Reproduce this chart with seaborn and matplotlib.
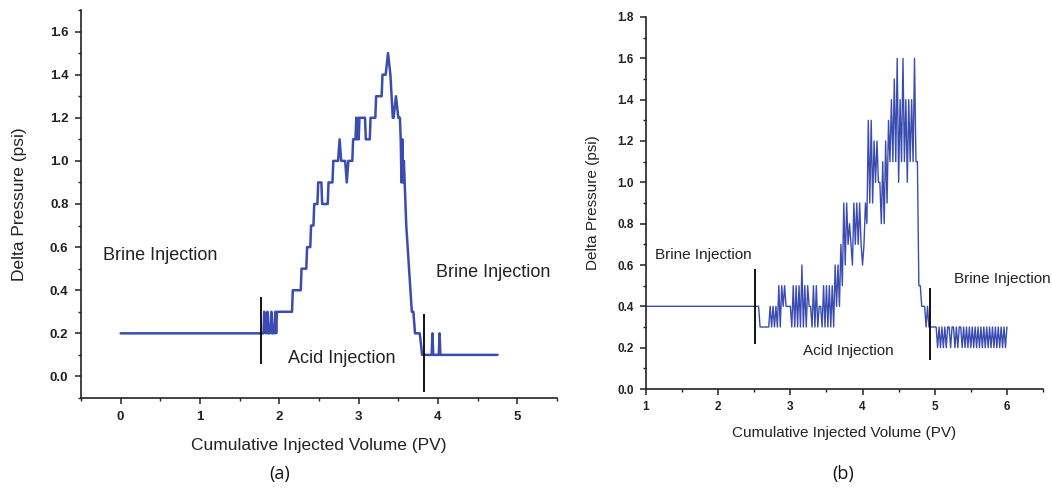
import matplotlib
matplotlib.use("Agg")
import matplotlib.pyplot as plt
from matplotlib.ticker import MultipleLocator, FormatStrFormatter
import pandas as pd
import seaborn as sns

# ---------------- data: panel (a) ----------------
pv_a = [0.00, 1.80, 1.81, 1.83, 1.85, 1.86, 1.88, 1.90, 1.91, 1.93, 1.95, 1.96, 1.97,
        2.16, 2.17, 2.27, 2.28, 2.34, 2.35, 2.39, 2.40, 2.43, 2.44, 2.48, 2.49, 2.53,
        2.54, 2.61, 2.62, 2.67, 2.68, 2.74, 2.76, 2.78, 2.83, 2.85, 2.87, 2.92, 2.93,
        2.96, 2.97, 2.98, 2.99, 3.00, 3.01, 3.08, 3.09, 3.14, 3.15, 3.21, 3.22, 3.29,
        3.30, 3.34, 3.37, 3.40, 3.43, 3.44, 3.47, 3.50, 3.52, 3.53, 3.54, 3.55, 3.56,
        3.57, 3.60, 3.67, 3.69, 3.71, 3.77, 3.80, 3.92, 3.93, 3.94, 4.01, 4.02, 4.03,
        4.75]
dp_a = [0.2, 0.2, 0.3, 0.2, 0.3, 0.2, 0.2, 0.3, 0.2, 0.2, 0.3, 0.2, 0.3,
        0.3, 0.4, 0.4, 0.5, 0.5, 0.6, 0.6, 0.7, 0.7, 0.8, 0.8, 0.9, 0.9,
        0.8, 0.8, 0.9, 0.9, 1.0, 1.0, 1.1, 1.0, 1.0, 0.9, 1.0, 1.0, 1.1,
        1.1, 1.2, 1.1, 1.2, 1.1, 1.2, 1.2, 1.1, 1.1, 1.2, 1.2, 1.3, 1.3,
        1.4, 1.4, 1.5, 1.4, 1.2, 1.2, 1.3, 1.2, 1.2, 1.1, 0.9, 1.1, 0.9,
        1.0, 0.7, 0.3, 0.3, 0.2, 0.2, 0.1, 0.1, 0.2, 0.1, 0.1, 0.2, 0.1,
        0.1]

div_a_x = [1.77, 3.82]
div_a_lo = [0.06, -0.07]
div_a_hi = [0.37, 0.29]
labels_a = ["Brine Injection", "Acid Injection", "Brine Injection"]
label_a_x = [-0.22, 2.11, 3.98]
label_a_y = [0.56, 0.085, 0.48]

# ---------------- data: panel (b) ----------------
pv_b_head = [1.00, 2.50]
dp_b_head = [0.4, 0.4]
SAMPLE_START_B = 2.52
SAMPLE_STEP_B = 0.02
dp_b_samples = [
    0.4, 0.4, 0.4, 0.3, 0.3, 0.3, 0.3, 0.3, 0.3, 0.3,   # 2.52
    0.4, 0.3, 0.4, 0.3, 0.4, 0.3, 0.5, 0.3, 0.5, 0.4,   # 2.72
    0.5, 0.4, 0.4, 0.4, 0.4, 0.3, 0.5, 0.3, 0.5, 0.3,   # 2.92
    0.5, 0.3, 0.6, 0.3, 0.5, 0.3, 0.5, 0.4, 0.4, 0.3,   # 3.12
    0.5, 0.3, 0.5, 0.3, 0.4, 0.4, 0.3, 0.5, 0.3, 0.5,   # 3.32
    0.3, 0.5, 0.3, 0.5, 0.3, 0.6, 0.4, 0.6, 0.4, 0.7,   # 3.52
    0.5, 0.9, 0.6, 0.9, 0.7, 0.8, 0.7, 0.6, 0.9, 0.7,   # 3.72
    0.9, 0.7, 0.9, 0.7, 0.6, 0.7, 0.9, 0.8, 1.3, 0.9,   # 3.92
    1.3, 0.9, 1.2, 1.0, 1.2, 1.0, 1.0, 0.8, 1.1, 0.8,   # 4.12
    1.2, 0.9, 1.3, 1.1, 1.4, 1.1, 1.5, 1.1, 1.6, 1.0,   # 4.32
    1.4, 1.1, 1.6, 1.1, 1.4, 1.0, 1.4, 1.1, 1.4, 1.1,   # 4.52
    1.6, 1.1, 1.1, 0.5, 0.5, 0.4, 0.4, 0.4, 0.3, 0.4,   # 4.72
    0.3, 0.3, 0.3, 0.3, 0.3, 0.3, 0.2, 0.3, 0.2, 0.3,   # 4.92
    0.2, 0.3, 0.2, 0.3, 0.3, 0.2, 0.3, 0.3, 0.2, 0.3,   # 5.12
    0.2, 0.3, 0.3, 0.2, 0.3, 0.2, 0.3, 0.2, 0.3, 0.2,   # 5.32
    0.3, 0.2, 0.3, 0.2, 0.3, 0.2, 0.3, 0.2, 0.3, 0.2,   # 5.52
    0.3, 0.2, 0.3, 0.2, 0.3, 0.2, 0.3, 0.2, 0.3, 0.2,   # 5.72
    0.3, 0.2, 0.3, 0.2, 0.3,                            # 5.92
]
pv_b = pv_b_head + [round(SAMPLE_START_B + SAMPLE_STEP_B * i, 2)
                    for i in range(len(dp_b_samples))]
dp_b = dp_b_head + dp_b_samples

div_b_x = [2.51, 4.93]
div_b_lo = [0.22, 0.14]
div_b_hi = [0.58, 0.49]
labels_b = ["Brine Injection", "Acid Injection", "Brine Injection"]
label_b_x = [1.12, 3.17, 5.27]
label_b_y = [0.65, 0.185, 0.532]

captions = ["(a)", "(b)"]
x_label = "Cumulative Injected Volume (PV)"
y_label = "Delta Pressure (psi)"

# ---------------- style ----------------
sns.set_theme(style="ticks")
plt.rcParams["font.family"] = ["Liberation Sans", "DejaVu Sans"]
LINE = "#3b4cb0"
INK = "#222222"

fig = plt.figure(figsize=(10.52, 4.91), dpi=100)
axA = fig.add_axes([81 / 1052, 1 - 398 / 491, 476 / 1052, 388 / 491])
axB = fig.add_axes([646 / 1052, 1 - 389 / 491, 397 / 1052, 372 / 491])

dfa = pd.DataFrame({"pv": pv_a, "dp": dp_a})
dfb = pd.DataFrame({"pv": pv_b, "dp": dp_b})
sns.lineplot(data=dfa, x="pv", y="dp", ax=axA, color=LINE, lw=1.8,
             estimator=None, sort=False)
sns.lineplot(data=dfb, x="pv", y="dp", ax=axB, color=LINE, lw=1.0,
             estimator=None, sort=False)

axA.vlines(div_a_x, div_a_lo, div_a_hi, color="black", lw=1.3)
axB.vlines(div_b_x, div_b_lo, div_b_hi, color="black", lw=1.3)

for t, x, y in zip(labels_a, label_a_x, label_a_y):
    axA.text(x, y, t, fontsize=13, ha="left", va="center", color=INK,
             clip_on=False)
for t, x, y in zip(labels_b, label_b_x, label_b_y):
    axB.text(x, y, t, fontsize=11, ha="left", va="center", color=INK,
             clip_on=False)


def style(ax, xlim, ylim, fs_tick, fs_lab, ylabel_x, xlabel_y):
    ax.set_xlim(*xlim)
    ax.set_ylim(*ylim)
    ax.xaxis.set_major_locator(MultipleLocator(1))
    ax.xaxis.set_minor_locator(MultipleLocator(0.5))
    ax.yaxis.set_major_locator(MultipleLocator(0.2))
    ax.yaxis.set_minor_locator(MultipleLocator(0.1))
    ax.yaxis.set_major_formatter(FormatStrFormatter("%.1f"))
    ax.xaxis.set_major_formatter(FormatStrFormatter("%d"))
    for s in ["top", "right"]:
        ax.spines[s].set_visible(False)
    for s in ["left", "bottom"]:
        ax.spines[s].set_linewidth(1.2)
        ax.spines[s].set_color(INK)
    ax.tick_params(which="major", direction="out", length=4, width=1.1,
                   labelsize=fs_tick, color=INK, pad=5)
    ax.tick_params(which="minor", direction="out", length=2.5, width=1.0,
                   color=INK)
    for lab in ax.get_xticklabels() + ax.get_yticklabels():
        lab.set_fontweight("bold")
        lab.set_color(INK)
    ax.set_xlabel(x_label, fontsize=fs_lab, color=INK)
    ax.set_ylabel(y_label, fontsize=fs_lab, color=INK)
    ax.yaxis.set_label_coords(ylabel_x, 0.5)
    ax.xaxis.set_label_coords(0.5, xlabel_y)
    ax.set_facecolor("white")


style(axA, (-0.5, 5.5), (-0.1, 1.7), 9.5, 12.5, -0.113, -0.104)
style(axB, (1.0, 6.5), (0.0, 1.8), 8.5, 11, -0.115, -0.1)

fig.text(280 / 1052, 1 - 474 / 491, captions[0], fontsize=13,
         family=["Open Sans", "DejaVu Sans"], ha="center", va="center",
         color="#111111")
fig.text(843 / 1052, 1 - 474 / 491, captions[1], fontsize=13,
         family=["Open Sans", "DejaVu Sans"], ha="center", va="center",
         color="#111111")

fig.savefig("out.png", dpi=100, facecolor="white")
